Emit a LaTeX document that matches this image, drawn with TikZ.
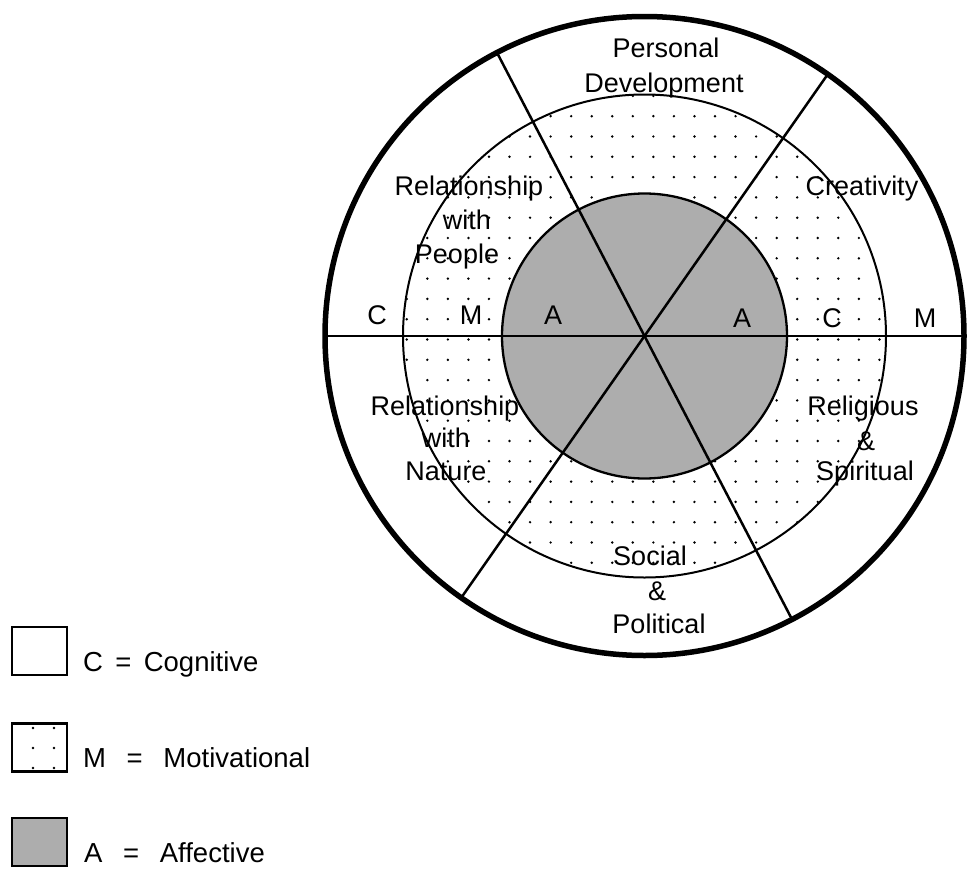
\documentclass[tikz,border=0pt]{standalone}
\usepackage{fontspec}
\setmainfont{Liberation Sans}
\usetikzlibrary{calc}
\definecolor{affectgray}{gray}{0.68}
\tikzset{
  lbl/.style={font=\fontsize{27}{34}\selectfont, inner sep=0pt, anchor=base},
  leglbl/.style={font=\fontsize{27.5}{34}\selectfont, inner sep=0pt, anchor=base west},
  spoke/.style={line width=2.5pt},
  ringline/.style={line width=2pt},
  outerline/.style={line width=5.5pt},
  legbox/.style={draw, line width=2.3pt, minimum width=55pt, minimum height=48pt, inner sep=0pt},
  mdot/.style={fill=black},
}
\begin{document}
\begin{tikzpicture}[x=1pt,y=-1pt]
\useasboundingbox (0,0) rectangle (967,870);
\coordinate (c) at (644.5,336);
% affective core
\fill[affectgray] (c) circle[radius=142.5pt];
% motivational dots
\begin{scope}[even odd rule]
  \clip (c) circle[radius=241pt] (c) circle[radius=143pt];
  \foreach \i in {-2,...,23} {
    \foreach \j in {-9,...,17} {
      \fill[mdot] ({427.3+20.55*\i},{258.3+20.3*\j}) circle[radius=1.35pt];
    }
  }
\end{scope}
% rings
\draw[line width=2.3pt] (c) circle[radius=142.5pt];
\draw[ringline] (c) circle[radius=241.5pt];
\draw[outerline] (c) circle[radius=319.5pt];
% spokes
\coordinate (hl) at ($(c)+(-319.5,0)$);
\coordinate (hr) at ($(c)+(323,0)$);
\draw[ringline] (hl) -- (hr);
\begin{scope}[shift={(c)}]
  \coordinate (s1a) at (-55:319.5);
  \coordinate (s1b) at (125:319.5);
  \coordinate (s2a) at (-117.5:319.5);
  \coordinate (s2b) at (62.5:319.5);
\end{scope}
\draw[spoke] (s1a) -- (s1b);
\draw[spoke] (s2a) -- (s2b);
% sector labels
\node[lbl] (pd1) at (666,57) {Personal};
\node[lbl] (pd2) at (664,92) {Development};
\node[lbl] (rp1) at (469,195) {Relationship};
\node[lbl] (rp2) at (467,229) {with};
\node[lbl] (rp3) at (457,263) {People};
\node[lbl] (cr1) at (862,195) {Creativity};
\node[lbl] (rn1) at (445,415) {Relationship};
\node[lbl] (rn2) at (446,447) {with};
\node[lbl] (rn3) at (446,480) {Nature};
\node[lbl] (rs1) at (863,415) {Religious};
\node[lbl] (rs2) at (866,450) {\&};
\node[lbl] (rs3) at (865,480) {Spiritual};
\node[lbl] (sp1) at (650,565) {Social};
\node[lbl] (sp2) at (657,600) {\&};
\node[lbl] (sp3) at (659,633) {Political};
% ring letters
\node[lbl] (lc) at (377,324) {C};
\node[lbl] (lm) at (471,324) {M};
\node[lbl] (la) at (553,324) {A};
\node[lbl] (ra) at (742,327) {A};
\node[lbl] (rc) at (832,327) {C};
\node[lbl] (rm) at (925,327) {M};
% legend
\node[legbox] (boxC) at (39.5,651) {};
\node[legbox] (boxM) at (39.5,747.5) {};
\node[legbox, fill=affectgray] (boxA) at (39.5,842) {};
\foreach \x in {33,54} {
  \foreach \y in {728,748,768} {
    \fill[mdot] (\x,\y) circle[radius=1.35pt];
  }
}
\node[leglbl] (tC) at (83,671) {C\hspace{0.45em}=\hspace{0.45em}Cognitive};
\node[leglbl] (tM) at (83,767) {M\hspace{0.75em}=\hspace{0.75em}Motivational};
\node[leglbl] (tA) at (84,862) {A\hspace{0.75em}=\hspace{0.75em}Affective};
\end{tikzpicture}
\end{document}
